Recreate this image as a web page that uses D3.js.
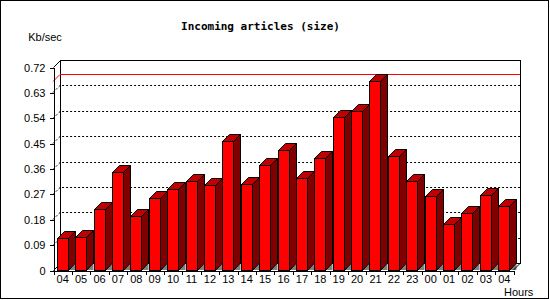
<!DOCTYPE html>
<html>
<head>
<meta charset="utf-8">
<script src="https://cdn.jsdelivr.net/npm/d3@7"></script>
<style>
  body { margin: 0; background: #fff; }
  svg text { font-family: "Liberation Sans", Arial, sans-serif; font-size: 11px; }
</style>
</head>
<body>
<main></main>
<script>
// hours on the x axis (one bar each)
const hours = ["04","05","06","07","08","09","10","11","12","13","14","15","16",
               "17","18","19","20","21","22","23","00","01","02","03","04"];
// incoming size, Kb/sec
const kbPerSec = [0.112, 0.116, 0.215, 0.346, 0.190, 0.254, 0.289, 0.314, 0.300, 0.457,
                  0.305, 0.374, 0.425, 0.328, 0.399, 0.541, 0.564, 0.669, 0.406, 0.314,
                  0.262, 0.162, 0.202, 0.266, 0.226];
const yTickLabels = ["0","0.09","0.18","0.27","0.36","0.45","0.54","0.63","0.72"];

const width = 550, height = 300;
const depth = 7;
const barW = 11;
const plot = { left: 53, right: 513, top: 67, bottom: 270 };

const svg = d3.select("main").append("svg")
    .attr("width", width)
    .attr("height", height);

// outer frame
svg.append("rect")
    .attr("x", 0.5).attr("y", 0.5)
    .attr("width", 548).attr("height", 298)
    .attr("fill", "#fff")
    .attr("stroke", "#000");

const idx = d3.range(hours.length);
const x = d3.scaleBand().domain(idx).range([plot.left, plot.right]);
const xEdge = d3.scaleLinear().domain([0, hours.length]).range([plot.left, plot.right]);
const yTicks = yTickLabels.map(Number);
const y = d3.scaleLinear().domain([0, d3.max(yTicks)]).range([plot.bottom, plot.top]);
const y0 = y(0);

// back wall
const wall = svg.append("g").attr("shape-rendering", "crispEdges");
wall.append("rect")
    .attr("x", plot.left + depth + 0.5)
    .attr("y", plot.top - depth + 0.5)
    .attr("width", plot.right - plot.left)
    .attr("height", plot.bottom - plot.top)
    .attr("fill", "#fff")
    .attr("stroke", "#000");

// dotted grid on the wall
const grid = svg.append("g");
yTicks.filter(t => t > 0 && t < d3.max(yTicks)).forEach(t => {
    const yy = Math.round(y(t)) + 0.5;
    grid.append("path")
        .attr("d", `M${plot.left},${yy}L${plot.left + depth},${yy - depth}L${plot.right + depth},${yy - depth}`)
        .attr("fill", "none")
        .attr("stroke", "#000")
        .attr("stroke-dasharray", "2,2");
});
// diagonals at 0 and top
[0, d3.max(yTicks)].forEach(t => {
    const yy = Math.round(y(t)) + 0.5;
    grid.append("path")
        .attr("d", `M${plot.left + 0.5},${yy}L${plot.left + depth + 0.5},${yy - depth}`)
        .attr("stroke", "#000");
});

// max line in red
const maxV = d3.max(kbPerSec);
const ym = Math.round(y(maxV)) + 0.5;
grid.append("path")
    .attr("d", `M${plot.left},${ym}L${plot.left + depth},${ym - depth}L${plot.right + depth},${ym - depth}`)
    .attr("fill", "none")
    .attr("stroke", "#ff0000");

// bars
const bars = svg.append("g").selectAll("g")
    .data(kbPerSec)
    .join("g");

const fx = (d, i) => Math.round(x(i) + x.bandwidth() / 2 - barW / 2) + 0.5;
const fy = d => Math.round(y(d)) + 0.5;

bars.append("path")   // floor shadow
    .attr("d", (d, i) => {
        const xr = fx(d, i) + barW;
        return `M${xr},${y0}L${xr + depth},${y0 - depth}L${xr + depth},${y0}Z`;
    })
    .attr("fill", "#808080");

bars.append("path")   // side
    .attr("d", (d, i) => {
        const xr = fx(d, i) + barW, yt = fy(d);
        return `M${xr},${yt}L${xr + depth},${yt - depth}L${xr + depth},${y0 - depth}L${xr},${y0 + 0.5}Z`;
    })
    .attr("fill", "#800000")
    .attr("stroke", "#000");

bars.append("path")   // top
    .attr("d", (d, i) => {
        const xl = fx(d, i), xr = xl + barW, yt = fy(d);
        return `M${xl},${yt}L${xl + depth},${yt - depth}L${xr + depth},${yt - depth}L${xr},${yt}Z`;
    })
    .attr("fill", "#c00000")
    .attr("stroke", "#000");

bars.append("rect")   // front
    .attr("x", fx)
    .attr("y", fy)
    .attr("width", barW)
    .attr("height", d => y0 - fy(d))
    .attr("fill", "#ff0000")
    .attr("stroke", "#000")
    .attr("shape-rendering", "crispEdges");

// floor right edge
svg.append("path")
    .attr("d", `M${plot.right + 0.5},${y0}L${plot.right + depth + 0.5},${y0 - depth}`)
    .attr("stroke", "#000");

// axes
const yAxis = svg.append("g")
    .attr("transform", `translate(${plot.left + 0.5},0.5)`)
    .attr("shape-rendering", "crispEdges")
    .call(d3.axisLeft(y).tickValues(yTicks).tickSize(4).tickSizeOuter(0).tickPadding(4)
        .tickFormat((d, i) => yTickLabels[i]));

const xTicks = svg.append("g")
    .attr("transform", `translate(0.5,${y0 + 0.5})`)
    .attr("shape-rendering", "crispEdges")
    .call(d3.axisBottom(xEdge).tickValues(d3.range(hours.length + 1)).tickSize(4).tickSizeOuter(0)
        .tickFormat(""));

const xAxis = svg.append("g")
    .attr("transform", `translate(0.5,${y0 + 0.5})`)
    .call(d3.axisBottom(x).tickSize(0).tickPadding(5).tickFormat(i => hours[i]));
xAxis.select(".domain").remove();

svg.selectAll(".tick text").attr("font-family", "Liberation Sans").attr("font-size", 11).attr("fill", "#000");

// labels
svg.append("text")
    .attr("x", 260.5).attr("y", 30)
    .attr("text-anchor", "middle")
    .style("font-family", "'DejaVu Sans Mono', monospace")
    .style("font-weight", "bold")
    .text("Incoming articles (size)");

svg.append("text")
    .attr("x", 45).attr("y", 41)
    .attr("text-anchor", "middle")
    .text("Kb/sec");

svg.append("text")
    .attr("x", 504).attr("y", 296)
    .text("Hours");
</script>
</body>
</html>
